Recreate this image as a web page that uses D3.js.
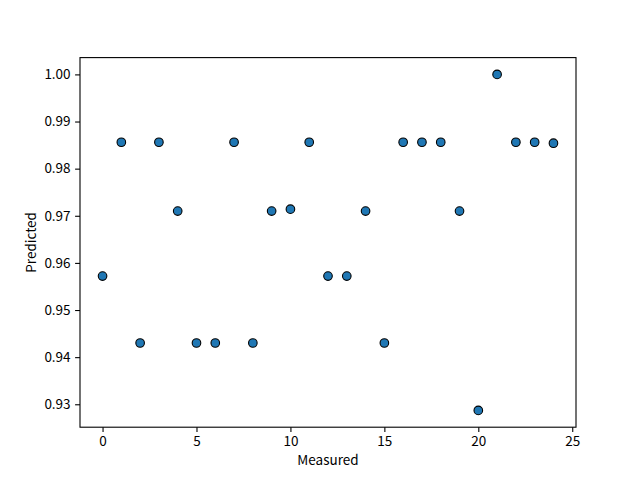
<!DOCTYPE html>
<html>
<head>
<meta charset="utf-8">
<script src="https://cdn.jsdelivr.net/npm/d3@7"></script>
<style>
  body { margin: 0; background: #fff; }
  svg { display: block; }
  text { font-family: "Noto Sans CJK SC", "DejaVu Sans", sans-serif; }
</style>
</head>
<body>
<div id="chart"></div>
<script>
const measured = [0,1,2,3,4,5,6,7,8,9,10,11,12,13,14,15,16,17,18,19,20,21,22,23,24];
const predicted = [0.9572,0.9856,0.9430,0.9856,0.9710,0.9430,0.9430,0.9856,0.9430,0.9710,0.9714,0.9856,0.9572,0.9572,0.9710,0.9430,0.9856,0.9856,0.9856,0.9710,0.9287,1.0000,0.9856,0.9856,0.9854];
const xTicks = [0,5,10,15,20,25];
const yTicks = [0.93,0.94,0.95,0.96,0.97,0.98,0.99,1.00];
const xLabel = "Measured";
const yLabel = "Predicted";

const W = 640, H = 480;
const m = {left: 80, right: 64, top: 57.6, bottom: 52.8};
const iw = W - m.left - m.right, ih = H - m.top - m.bottom;

function padded(arr) {
  const [a, b] = d3.extent(arr);
  const r = b - a;
  return [a - 0.05 * r, b + 0.05 * r];
}

const x = d3.scaleLinear().domain(padded(measured)).range([0, iw]);
const y = d3.scaleLinear().domain(padded(predicted)).range([ih, 0]);

const svg = d3.select("#chart").append("svg").attr("width", W).attr("height", H);
const g = svg.append("g").attr("transform", `translate(${m.left},${m.top})`);

const xAxis = g.append("g").attr("transform", `translate(0,${ih})`)
  .call(d3.axisBottom(x).tickValues(xTicks).tickFormat(d3.format("d")).tickSizeOuter(0).tickSize(4.9).tickPadding(4));
const yAxis = g.append("g")
  .call(d3.axisLeft(y).tickValues(yTicks).tickFormat(d3.format(".2f")).tickSizeOuter(0).tickSize(4.9).tickPadding(4.5));

[xAxis, yAxis].forEach(a => {
  a.select(".domain").remove();
  a.selectAll(".tick line").attr("stroke", "#000").attr("stroke-width", 1.1);
  a.selectAll(".tick text").attr("fill", "#000").style("font-size", "13.5px")
    .style("font-family", '"Noto Sans CJK SC", sans-serif');
});

g.append("rect").attr("x", 0).attr("y", 0).attr("width", iw).attr("height", ih)
  .attr("fill", "none").attr("stroke", "#000").attr("stroke-width", 1.1);

g.selectAll("circle.pt").data(measured.map((d, i) => [d, predicted[i]]))
  .enter().append("circle").attr("class", "pt")
  .attr("cx", d => x(d[0])).attr("cy", d => y(d[1])).attr("r", 4.3)
  .attr("fill", "#1f77b4").attr("stroke", "#000").attr("stroke-width", 1.1);

svg.append("text").attr("x", m.left + iw / 2).attr("y", 465)
  .attr("text-anchor", "middle").style("font-size", "13.5px").text(xLabel);
svg.append("text").attr("transform", `translate(36,${m.top + ih / 2}) rotate(-90)`)
  .attr("text-anchor", "middle").style("font-size", "13.5px").text(yLabel);
</script>
</body>
</html>
